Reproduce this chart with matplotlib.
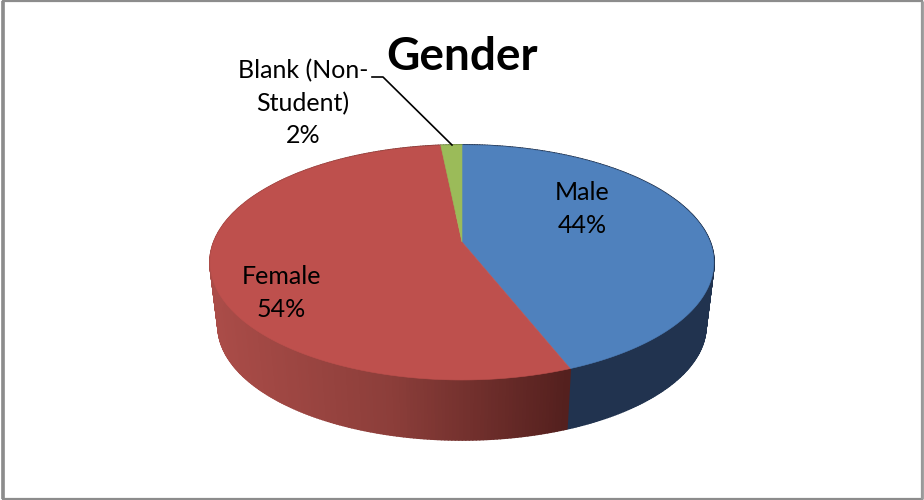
import numpy as np
import matplotlib
matplotlib.use("Agg")
import matplotlib.pyplot as plt
from matplotlib.patches import Polygon, Rectangle

plt.rcParams['font.family'] = ['Lato', 'DejaVu Sans']

title = "Gender"
categories = ["Male", "Female", "Blank (Non-\nStudent)"]
values = [44.05, 54.35, 1.6]
top_colors = ["#4F81BD", "#BE504D", "#9BBB59"]

W, H = 924, 500
fig = plt.figure(figsize=(W / 100, H / 100), dpi=100, facecolor="white")
ax = fig.add_axes([0, 0, 1, 1])
ax.set_xlim(0, W)
ax.set_ylim(H, 0)
ax.axis("off")

CX, CY, RX, RY, K = 462.0, 242.0, 248.0, 113.9, 0.1745
BX, BY, SX, SY = 462.0, 306.0, 0.968, 0.97


def top_xy(theta):
    x, y = np.sin(theta), np.cos(theta)
    w = 1 + K * y
    return CX + RX * x / w, CY - RY * y / w


def bottom_xy(theta):
    x, y = top_xy(theta)
    return BX + SX * (x - CX), BY + SY * (y - CY)


def side_colour(i, x):
    t = np.clip((x - 214) / (568 - 214), 0, 1)
    if i == 1:
        a, b, c = np.array([170, 76, 72]), np.array([140, 62, 58]), np.array([84, 32, 30])
        col = a + (b - a) * t / 0.5 if t < 0.5 else b + (c - b) * (t - 0.5) / 0.5
        return col / 255
    if i == 0:
        return np.array([33, 51, 79]) / 255
    return np.array([110, 135, 60]) / 255


ax.add_patch(Rectangle((3, 1), 918.5, 497.5, fc="white", ec="#8C8C8C", lw=1.6))
ax.plot([3, 3], [1, 498.5], color="#8C8C8C", lw=2.6, solid_capstyle="butt")
ax.plot([921.5, 921.5], [1, 498.5], color="#9A9A9A", lw=2.0, solid_capstyle="butt")

fractions = np.array(values) / sum(values)
starts = np.concatenate([[0], np.cumsum(fractions)[:-1]]) * 2 * np.pi
ends = np.cumsum(fractions) * 2 * np.pi

# extruded side, painted first; the top face hides the back part
for i, (a, b) in enumerate(zip(starts, ends)):
    n = max(4, int((b - a) / 0.012))
    th = np.linspace(a, b, n + 1)
    tx, ty = top_xy(th)
    bx, by = bottom_xy(th)
    for j in range(n):
        col = side_colour(i, tx[j])
        ax.add_patch(Polygon([(tx[j], ty[j]), (tx[j + 1], ty[j + 1]),
                              (bx[j + 1], by[j + 1]), (bx[j], by[j])],
                             closed=True, fc=col, ec=col, lw=1.4, joinstyle="round"))

# top face
for i, (a, b) in enumerate(zip(starts, ends)):
    th = np.linspace(a, b, 200)
    tx, ty = top_xy(th)
    pts = np.column_stack([np.r_[CX, tx], np.r_[CY, ty]])
    ax.add_patch(Polygon(pts, closed=True, fc=top_colors[i], ec=top_colors[i], lw=0.4))

ax.text(462, 57, title, fontsize=33, fontweight="bold", ha="center", va="center", color="black")

label_pos = [(582, 209), (281, 293), (303, 103)]
for name, v, (lx, ly) in zip(categories, fractions, label_pos):
    ax.text(lx, ly, f"{name}\n{round(v * 100)}%", fontsize=18, ha="center", va="center",
            linespacing=1.5, color="black")

ax.plot([372, 383, 452], [77, 77, 145], color="black", lw=1.2)

fig.savefig("out.png", dpi=100, facecolor="white")
